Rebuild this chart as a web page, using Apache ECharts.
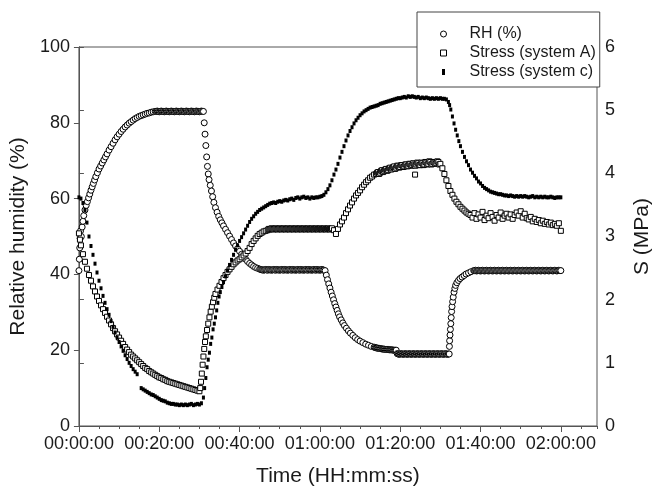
<!DOCTYPE html>
<html>
<head>
<meta charset="utf-8">
<script src="https://cdn.jsdelivr.net/npm/echarts@6/dist/echarts.min.js"></script>
<style>
  html, body { margin: 0; padding: 0; background: #fff; }
  #chart { width: 661px; height: 492px; }
</style>
</head>
<body>
<div id="chart"></div>
<script>
// time in minutes, RH in %
var rhData = [
  [0,41],[0.1,44],[0.2,47],[0.3,49.5],[0.4,51.5],[0.6,50],[0.8,52.5],[1.0,54],[1.2,55.5],[1.5,57],
  [1.8,58.2],[2.1,59.2],[2.4,60.2],[2.7,61.2],[3.0,62.2],[3.3,63.1],[3.6,64],[3.9,64.9],[4.2,65.8],[4.6,66.8],
  [5.0,67.8],[5.4,68.6],[5.8,69.4],[6.2,70.2],[6.6,71],[7.0,71.8],[7.5,72.8],[8.0,73.7],[8.5,74.6],[9.0,75.5],
  [9.5,76.3],[10,77],[10.5,77.7],[11,78.3],[11.5,78.9],[12,79.4],[12.5,79.9],[13,80.3],[13.5,80.7],[14,81.1],
  [14.5,81.4],[15,81.7],[15.5,81.9],[16,82.1],[16.5,82.3],[17,82.5],[17.5,82.6],[18,82.8],[18.5,82.9],
  [19,83],[19.25,83],[19.5,83.1],[19.75,83],[20,82.9],[20.25,83],[20.5,83.1],[20.75,83],[21,83],[21.25,82.9],
  [21.5,83],[21.75,83.1],[22,83],[22.25,83],[22.5,82.9],[22.75,83],[23,83.1],[23.25,83],[23.5,83],[23.75,82.9],
  [24,83],[24.25,83.1],[24.5,83],[24.75,83],[25,82.9],[25.25,83],[25.5,83.1],[25.75,83],[26,83],[26.25,82.9],
  [26.5,83],[26.75,83.1],[27,83],[27.25,83],[27.5,82.9],[27.75,83],[28,83.1],[28.25,83],[28.5,83],[28.75,82.9],
  [29,83],[29.25,83.1],[29.5,83],[29.75,83],[30,82.9],[30.25,83],[30.5,83.1],[30.75,83],[31,83],
  [31.2,80],[31.4,77],[31.6,74],[31.8,71],[32.0,68.5],[32.2,66.5],[32.4,65],[32.7,63.5],[33.0,62],[33.3,60.5],
  [33.6,59],[34.0,57.6],[34.4,56.4],[34.8,55.3],[35.2,54.4],[35.6,53.6],[36.0,52.8],[36.5,51.9],[37.0,51],[37.5,50.1],
  [38.0,49.2],[38.5,48.3],[39.0,47.5],[39.5,46.8],[40.0,46.1],[40.5,45.3],[41.0,44.6],[41.5,44],[42.0,43.4],[42.5,42.9],
  [43.0,42.5],[43.5,42.1],[44.0,41.8],[44.5,41.6],[45,41.4],
  [45.25,41.3],[45.5,41.2],[45.75,41.2],[46,41.1],[46.25,41.2],[46.5,41.3],[46.75,41.2],[47,41.1],
  [47.25,41.3],[47.5,41.2],[47.75,41.2],[48,41.1],[48.25,41.2],[48.5,41.3],[48.75,41.2],[49,41.1],
  [49.25,41.3],[49.5,41.2],[49.75,41.2],[50,41.1],[50.25,41.2],[50.5,41.3],[50.75,41.2],[51,41.1],
  [51.25,41.3],[51.5,41.2],[51.75,41.2],[52,41.1],[52.25,41.2],[52.5,41.3],[52.75,41.2],[53,41.1],
  [53.25,41.3],[53.5,41.2],[53.75,41.2],[54,41.1],[54.25,41.2],[54.5,41.3],[54.75,41.2],[55,41.1],
  [55.25,41.3],[55.5,41.2],[55.75,41.2],[56,41.1],[56.25,41.2],[56.5,41.3],[56.75,41.2],[57,41.1],
  [57.25,41.3],[57.5,41.2],[57.75,41.2],[58,41.1],[58.25,41.2],[58.5,41.3],[58.75,41.2],[59,41.1],
  [59.25,41.3],[59.5,41.2],[59.75,41.2],[60,41.1],[60.25,41.2],[60.5,41.3],[60.75,41.2],[61,41.1],
  [61.3,41],[61.6,39.8],[61.9,38.6],[62.2,37.5],[62.5,36.4],[62.8,35.3],[63.1,34.3],[63.4,33.3],[63.7,32.3],[64.0,31.4],
  [64.3,30.5],[64.6,29.6],[64.9,28.8],[65.3,28],[65.7,27.2],[66.1,26.5],[66.6,25.8],[67.1,25.1],[67.6,24.5],[68.2,23.9],
  [68.8,23.3],[69.4,22.8],[70.0,22.4],[70.7,22],[71.4,21.6],[72.1,21.3],[72.8,21],
  [73.5,20.8],[73.75,20.7],[74,20.6],[74.25,20.6],[74.5,20.5],[74.75,20.5],[75,20.4],[75.25,20.4],[75.5,20.3],[75.75,20.3],
  [76,20.3],[76.25,20.2],[76.5,20.2],[76.75,20.2],[77,20.2],[77.25,20.1],[77.5,20.1],[77.75,20.1],[78,20.1],[78.25,20],
  [78.5,20],[78.75,20],[79,20],
  [79.25,19.1],[79.5,19],[79.75,18.9],[80,19],[80.25,19.1],[80.5,19],[80.75,18.9],[81,19],
  [81.25,19.1],[81.5,19],[81.75,18.9],[82,19],[82.25,19.1],[82.5,19],[82.75,18.9],[83,19],
  [83.25,19.1],[83.5,19],[83.75,18.9],[84,19],[84.25,19.1],[84.5,19],[84.75,18.9],[85,19],
  [85.25,19.1],[85.5,19],[85.75,18.9],[86,19],[86.25,19.1],[86.5,19],[86.75,18.9],[87,19],
  [87.25,19.1],[87.5,19],[87.75,18.9],[88,19],[88.25,19.1],[88.5,19],[88.75,18.9],[89,19],
  [89.25,19.1],[89.5,19],[89.75,18.9],[90,19],[90.25,19.1],[90.5,19],[90.75,18.9],[91,19],
  [91.25,19.1],[91.5,19],[91.75,18.9],[92,19],
  [92.2,19],[92.25,21],[92.3,22.5],[92.4,24],[92.5,25.5],[92.6,27],[92.7,28.6],[92.8,30.2],[92.9,31.5],[93.05,32.8],
  [93.2,34],[93.4,35.3],[93.6,36.3],[93.8,37.1],[94.1,37.8],[94.5,38.4],[94.9,38.9],[95.4,39.3],[95.9,39.7],[96.4,40.1],
  [97.0,40.4],[97.6,40.7],[98.3,41],
  [98.5,41],[98.75,41.1],[99,40.9],
  [99.25,41],[99.5,41.1],[99.75,41],[100,40.9],[100.25,41],[100.5,41.1],[100.75,41],[101,40.9],
  [101.25,41],[101.5,41.1],[101.75,41],[102,40.9],[102.25,41],[102.5,41.1],[102.75,41],[103,40.9],
  [103.25,41],[103.5,41.1],[103.75,41],[104,40.9],[104.25,41],[104.5,41.1],[104.75,41],[105,40.9],
  [105.25,41],[105.5,41.1],[105.75,41],[106,40.9],[106.25,41],[106.5,41.1],[106.75,41],[107,40.9],
  [107.25,41],[107.5,41.1],[107.75,41],[108,40.9],[108.25,41],[108.5,41.1],[108.75,41],[109,40.9],
  [109.25,41],[109.5,41.1],[109.75,41],[110,40.9],[110.25,41],[110.5,41.1],[110.75,41],[111,40.9],
  [111.25,41],[111.5,41.1],[111.75,41],[112,40.9],[112.25,41],[112.5,41.1],[112.75,41],[113,40.9],
  [113.25,41],[113.5,41.1],[113.75,41],[114,40.9],[114.25,41],[114.5,41.1],[114.75,41],[115,40.9],
  [115.25,41],[115.5,41.1],[115.75,41],[116,40.9],[116.25,41],[116.5,41.1],[116.75,41],[117,40.9],
  [117.25,41],[117.5,41.1],[117.75,41],[118,40.9],[118.25,41],[118.5,41.1],[118.75,41],[119,40.9],
  [119.25,41],[119.5,41.1],[119.75,41],[120,41]
];

// time in minutes, stress in MPa
var stressA = [
  [0,3.05],[0.25,2.95],[0.5,2.86],[1,2.72],[1.5,2.6],[2,2.49],[2.5,2.39],[3,2.3],[3.5,2.21],[4,2.13],
  [4.5,2.05],[5,1.98],[5.5,1.91],[6,1.85],[6.5,1.79],[7,1.73],[7.5,1.67],[8,1.61],[8.5,1.55],[9,1.5],
  [9.5,1.45],[10,1.4],[10.5,1.35],[11,1.3],[11.5,1.25],[12,1.21],[12.5,1.17],[13,1.13],[13.5,1.1],[14,1.07],
  [14.5,1.04],[15,1.01],[15.5,0.98],[16,0.95],[16.5,0.92],[17,0.9],[17.5,0.87],[18,0.85],[18.5,0.83],[19,0.81],
  [19.5,0.79],[20,0.77],[20.5,0.76],[21,0.74],[21.5,0.73],[22,0.71],[22.5,0.7],[23,0.69],[23.5,0.68],[24,0.67],
  [24.5,0.66],[25,0.65],[25.5,0.64],[26,0.63],[26.5,0.62],[27,0.61],[27.5,0.6],[28,0.59],[28.5,0.58],[29,0.57],
  [29.5,0.56],[30,0.55],
  [30.2,0.6],[30.4,0.7],[30.6,0.83],[30.8,0.97],[31.0,1.1],[31.2,1.22],[31.4,1.33],[31.6,1.42],[31.9,1.52],[32.2,1.62],
  [32.5,1.72],[32.8,1.81],[33.1,1.89],[33.4,1.96],[33.7,2.03],[34,2.09],[34.5,2.16],[35,2.22],[35.5,2.28],[36,2.34],
  [36.5,2.39],[37,2.44],[37.5,2.48],[38,2.52],[38.5,2.56],[39,2.59],[39.5,2.62],[40,2.64],[40.5,2.67],[41,2.7],
  [41.5,2.73],[42,2.77],[42.5,2.82],[43,2.88],[43.5,2.93],[44,2.97],[44.5,3.01],[45,3.04],[45.5,3.06],[46,3.08],
  [46.5,3.09],[47,3.1],
  [47.25,3.12],[47.5,3.11],[47.75,3.12],[48,3.13],[48.25,3.12],[48.5,3.11],[48.75,3.12],[49,3.13],
  [49.25,3.12],[49.5,3.11],[49.75,3.12],[50,3.13],[50.25,3.12],[50.5,3.11],[50.75,3.12],[51,3.13],
  [51.25,3.12],[51.5,3.11],[51.75,3.12],[52,3.13],[52.25,3.12],[52.5,3.11],[52.75,3.12],[53,3.13],
  [53.25,3.12],[53.5,3.11],[53.75,3.12],[54,3.13],[54.25,3.12],[54.5,3.11],[54.75,3.12],[55,3.13],
  [55.25,3.12],[55.5,3.11],[55.75,3.12],[56,3.13],[56.25,3.12],[56.5,3.11],[56.75,3.12],[57,3.13],
  [57.25,3.12],[57.5,3.11],[57.75,3.12],[58,3.13],[58.25,3.12],[58.5,3.11],[58.75,3.12],[59,3.13],
  [59.25,3.12],[59.5,3.11],[59.75,3.12],[60,3.13],[60.25,3.12],[60.5,3.11],[60.75,3.12],[61,3.13],
  [61.25,3.12],[61.5,3.11],[61.75,3.12],[62,3.13],[62.25,3.12],[62.5,3.11],[62.75,3.12],[63,3.13],
  [63.5,3.1],[64,3.04],[64.5,3.12],[65,3.19],[65.5,3.24],[66,3.3],[66.5,3.37],[67,3.43],[67.5,3.49],[68,3.54],
  [68.5,3.6],[69,3.65],[69.5,3.69],[70,3.73],[70.5,3.78],[71,3.82],[71.5,3.86],[72,3.89],[72.5,3.93],[73,3.95],
  [73.5,3.98],[74,3.99],[74.25,4.01],[74.5,4.02],[74.75,3.99],[75,4.01],[75.25,4.04],[75.5,4.05],[75.75,4.02],[76,4.04],
  [76.25,4.06],[76.5,4.07],[76.75,4.04],[77,4.05],[77.25,4.08],[77.5,4.09],[77.75,4.06],[78,4.08],[78.25,4.1],[78.5,4.11],
  [78.75,4.07],[79,4.09],[79.25,4.12],[79.5,4.12],[79.75,4.09],[80,4.1],[80.25,4.13],[80.5,4.13],[80.75,4.1],[81,4.11],
  [81.25,4.14],[81.5,4.14],[81.75,4.11],[82,4.12],[82.25,4.15],[82.5,4.15],[82.75,4.12],[83,4.13],[83.25,4.16],[83.5,4.14],
  [83.7,3.98],[83.75,4.12],[84,4.14],[84.25,4.17],[84.5,4.16],[84.75,4.13],[85,4.13],[85.25,4.17],[85.5,4.16],[85.75,4.13],
  [86,4.14],[86.25,4.18],[86.5,4.17],[86.75,4.14],[87,4.15],[87.25,4.19],[87.5,4.18],[87.75,4.14],[88,4.15],[88.25,4.18],
  [88.5,4.17],[88.75,4.15],[89,4.16],[89.25,4.19],[89.5,4.18],[89.75,4.14],[90,4.15],
  [90.5,4.08],[91,3.99],[91.5,3.89],[92,3.8],[92.5,3.72],[93,3.66],[93.5,3.6],[94,3.55],[94.5,3.51],[95,3.47],
  [95.5,3.44],[96,3.41],[96.5,3.38],[97,3.36],[97.5,3.34],[98,3.3],[98.5,3.37],[99,3.28],[99.5,3.35],[100,3.3],
  [100.5,3.39],[101,3.26],[101.5,3.33],[102,3.29],[102.5,3.37],[103,3.31],[103.5,3.25],[104,3.34],[104.5,3.3],[105,3.38],
  [105.5,3.28],[106,3.33],[106.5,3.36],[107,3.3],[107.5,3.35],[108,3.28],[108.5,3.34],[109,3.38],[109.5,3.33],[110,3.4],
  [110.5,3.3],[111,3.36],[111.5,3.29],[112,3.27],[112.5,3.31],[113,3.24],[113.5,3.28],[114,3.23],[114.5,3.26],[115,3.21],
  [115.5,3.25],[116,3.2],[116.5,3.23],[117,3.19],[117.5,3.22],[118,3.18],[118.5,3.2],[119,3.17],[119.5,3.21],[120,3.09]
];

var stressC = [
  [0,3.62],[0.5,3.6],[1.0,3.53],[1.5,3.42],[2.0,3.22],[2.5,3.0],[3.0,2.85],[3.5,2.71],[4.0,2.57],[4.5,2.43],
  [5.0,2.3],[5.5,2.18],[6.0,2.06],[6.5,1.95],[7,1.85],[7.5,1.76],[8,1.66],[8.5,1.57],[9,1.48],[9.5,1.4],
  [10,1.33],[10.5,1.26],[11,1.19],[11.5,1.12],[12,1.06],[12.5,1.0],[13,0.95],[13.5,0.9],[14,0.86],[14.5,0.82],
  [15.5,0.6],[16,0.58],[16.5,0.56],[17,0.54],[17.5,0.52],[18,0.5],[18.5,0.49],[19,0.47],[19.5,0.45],[20,0.43],
  [20.5,0.41],[21,0.4],[21.5,0.39],[22,0.37],[22.5,0.36],[23,0.35],[23.5,0.35],[24,0.34],[24.5,0.34],[25,0.33],
  [25.5,0.34],[26,0.33],[26.5,0.34],[27,0.33],[27.5,0.34],[28,0.35],[28.5,0.33],[29,0.34],[29.5,0.35],[30,0.34],
  [30.5,0.36],
  [31.0,0.45],[31.3,0.6],[31.6,0.76],[31.9,0.93],[32.2,1.05],[32.5,1.16],[32.8,1.3],[33.1,1.4],[33.4,1.53],[33.7,1.62],
  [34.0,1.72],[34.3,1.83],[34.6,1.95],[34.9,2.05],[35.2,2.12],[35.6,2.2],[36,2.28],[36.5,2.37],[37,2.46],[37.5,2.55],
  [38,2.63],[38.5,2.71],[39,2.79],[39.5,2.86],[40,2.93],[40.5,2.99],[41,3.05],[41.5,3.11],[42,3.17],[42.5,3.23],
  [43,3.28],[43.5,3.32],[44,3.36],[44.5,3.39],[45,3.42],[45.5,3.44],[46,3.46],[46.5,3.48],[47,3.5],[47.5,3.52],
  [48,3.53],[48.5,3.54],[49,3.53],[49.5,3.55],[50,3.56],[50.5,3.55],[51,3.57],[51.5,3.58],[52,3.57],[52.5,3.59],
  [53,3.6],[53.5,3.58],[54,3.61],[54.5,3.62],[55,3.6],[55.5,3.62],[56,3.63],[56.5,3.61],[57,3.62],[57.5,3.6],
  [58,3.62],[58.5,3.61],[59,3.62],[59.5,3.62],[60,3.63],[60.5,3.64],[61,3.66],[61.5,3.7],[62,3.75],[62.5,3.81],
  [63,3.89],[63.5,3.98],[64,4.06],[64.5,4.15],[65,4.25],[65.5,4.34],[66,4.43],[66.5,4.52],[67,4.6],[67.5,4.67],
  [68,4.73],[68.5,4.79],[69,4.84],[69.5,4.88],[70,4.92],[70.5,4.95],[71,4.98],[71.5,5.0],[72,5.02],[72.5,5.04],
  [73,5.05],[73.5,5.06],[74,5.07],[74.5,5.08],[75,5.1],[75.5,5.11],[76,5.12],[76.5,5.13],[77,5.14],[77.5,5.15],
  [78,5.16],[78.5,5.17],[79,5.18],[79.5,5.19],[80,5.19],[80.5,5.2],[81,5.21],[81.5,5.2],[82,5.22],[82.5,5.21],
  [83,5.22],[83.5,5.21],[84,5.2],[84.5,5.21],[85,5.19],[85.5,5.2],[86,5.19],[86.5,5.2],[87,5.19],[87.5,5.18],
  [88,5.19],[88.5,5.18],[89,5.19],[89.5,5.18],[90,5.19],[90.5,5.18],[91,5.18],[91.5,5.17],
  [92,5.13],[92.3,5.08],[92.6,5.01],[93,4.9],[93.4,4.79],[93.8,4.69],[94.2,4.6],[94.6,4.51],[95,4.43],[95.5,4.34],
  [96,4.26],[96.5,4.19],[97,4.13],[97.5,4.06],[98,4.01],[98.5,3.96],[99,3.92],[99.5,3.87],[100,3.84],[100.5,3.8],
  [101,3.77],[101.5,3.75],[102,3.73],[102.5,3.71],[103,3.7],[103.5,3.69],[104,3.68],[104.5,3.67],[105,3.67],[105.5,3.66],
  [106,3.65],[106.5,3.65],[107,3.64],[107.5,3.65],[108,3.64],[108.5,3.63],[109,3.64],[109.5,3.63],[110,3.64],[110.5,3.63],
  [111,3.64],[111.5,3.63],[112,3.62],[112.5,3.63],[113,3.64],[113.5,3.62],[114,3.63],[114.5,3.62],[115,3.63],[115.5,3.62],
  [116,3.63],[116.5,3.62],[117,3.62],[117.5,3.63],[118,3.62],[118.5,3.61],[119,3.62],[119.5,3.62],[120,3.62]
];

var seriesNames = ['RH (%)', 'Stress (system A)', 'Stress (system c)'];

var font = 'Liberation Sans, Arial, sans-serif';
var axisColor = '#555';
var textColor = '#1a1a1a';

function pad(n) { return n < 10 ? '0' + n : '' + n; }
function hms(v) {
    var h = Math.floor(v / 60);
    var m = Math.round(v - h * 60);
    return pad(h) + ':' + pad(m) + ':00';
}

var myChart = echarts.init(document.getElementById('chart'));
var option = {
    animation: false,
    backgroundColor: '#fff',
    grid: {
        left: 77, right: 55, top: 47, bottom: 64,
        show: true,
        borderColor: axisColor,
        borderWidth: 1
    },
    legend: {
        orient: 'vertical',
        left: 417,
        top: 12,
        padding: [14, 4, 7, 23],
        itemWidth: 6,
        itemHeight: 6,
        itemGap: 3,
        backgroundColor: '#fff',
        borderColor: '#444',
        borderWidth: 1,
        textStyle: { fontFamily: font, fontSize: 16, color: textColor, lineHeight: 16, padding: [0, 0, 0, 18] },
        data: [
            { name: seriesNames[0], icon: 'circle', itemStyle: { color: '#fff', borderColor: '#000', borderWidth: 1 } },
            { name: seriesNames[1], icon: 'rect', itemStyle: { color: '#fff', borderColor: '#000', borderWidth: 1 } },
            { name: seriesNames[2], icon: 'path://M0,0L2,0L2,4L0,4Z', itemStyle: { color: '#000' } }
        ]
    },
    xAxis: [{
        type: 'value',
        min: 0, max: 129, interval: 20,
        name: 'Time (HH:mm:ss)',
        nameLocation: 'middle',
        nameGap: 40,
        nameTextStyle: { fontFamily: font, fontSize: 21, color: textColor },
        splitLine: { show: false },
        axisLine: { lineStyle: { color: axisColor } },
        axisTick: { length: 6, lineStyle: { color: axisColor } },
        axisLabel: {
            fontFamily: font, fontSize: 18, color: textColor, margin: 9,
            showMaxLabel: false,
            formatter: hms
        }
    }, {
        // minor ticks every 5 min
        type: 'value',
        position: 'bottom',
        min: 0, max: 129, interval: 5,
        splitLine: { show: false },
        axisLine: { show: false },
        axisTick: { length: 3, lineStyle: { color: axisColor } },
        axisLabel: { show: false }
    }],
    yAxis: [{
        type: 'value',
        min: 0, max: 100, interval: 20,
        name: 'Relative humidity (%)',
        nameLocation: 'middle',
        nameRotate: 90,
        nameGap: 42,
        nameTextStyle: { fontFamily: font, fontSize: 21, color: textColor },
        splitLine: { show: false },
        axisLine: { show: true, lineStyle: { color: axisColor } },
        axisTick: { show: true, length: 5, lineStyle: { color: axisColor } },
        axisLabel: { fontFamily: font, fontSize: 18, color: textColor, margin: 9 }
    }, {
        type: 'value',
        position: 'right',
        min: 0, max: 6, interval: 1,
        name: 'S (MPa)',
        nameLocation: 'middle',
        nameRotate: 90,
        nameGap: 35,
        nameTextStyle: { fontFamily: font, fontSize: 21, color: textColor },
        splitLine: { show: false },
        axisLine: { show: true, lineStyle: { color: axisColor } },
        axisTick: { show: true, length: 5, lineStyle: { color: axisColor } },
        axisLabel: { fontFamily: font, fontSize: 18, color: textColor, margin: 8 }
    }],
    series: [{
        name: seriesNames[0],
        type: 'scatter',
        yAxisIndex: 0,
        symbol: 'circle',
        symbolSize: 6,
        silent: true,
        itemStyle: { color: '#fff', borderColor: '#000', borderWidth: 1, opacity: 1 },
        data: rhData
    }, {
        name: seriesNames[1],
        type: 'scatter',
        yAxisIndex: 1,
        symbol: 'rect',
        symbolSize: 5,
        silent: true,
        itemStyle: { color: '#fff', borderColor: '#000', borderWidth: 1, opacity: 1 },
        data: stressA
    }, {
        name: seriesNames[2],
        type: 'scatter',
        yAxisIndex: 1,
        symbol: 'rect',
        symbolSize: [3, 4],
        silent: true,
        itemStyle: { color: '#000', opacity: 1 },
        data: stressC
    }]
};
myChart.setOption(option);
</script>
</body>
</html>
